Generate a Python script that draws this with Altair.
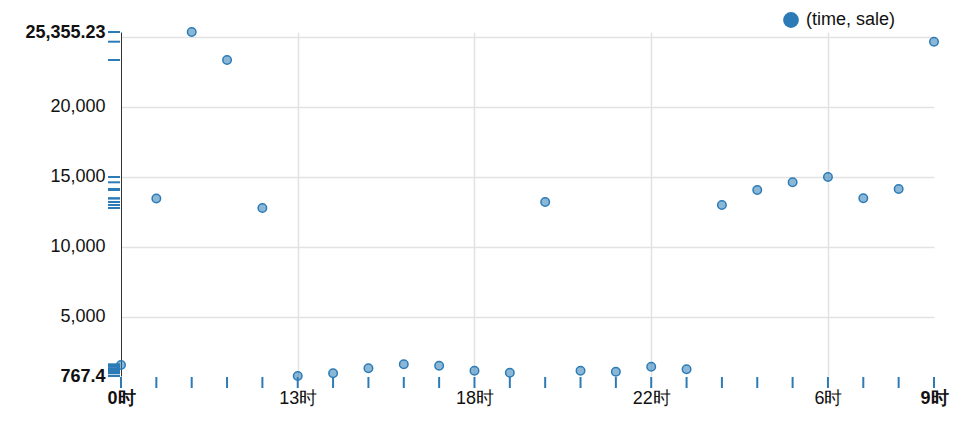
import altair as alt
import pandas as pd

# categories (string-sorted hours, as in the original)
times = ["0时", "1时", "10时", "11时", "12时", "13时", "14时", "15时", "16时", "17时",
         "18时", "19时", "2时", "20时", "21时", "22时", "23时", "3时", "4时", "5时",
         "6时", "7时", "8时", "9时"]
sales = [1552, 13460, 25355.23, 23354, 12775, 767.4, 959, 1317, 1603, 1503,
         1145, 1002, 13203, 1145, 1073, 1431, 1245, 12989, 14061, 14612,
         14990, 13467, 14133, 24662]
x_label_values = ["0时", "13时", "18时", "22时", "6时", "9时"]
y_label_values = [767.4, 5000, 10000, 15000, 20000, 25000, 25355.23]
series_name = "(time, sale)"

df = pd.DataFrame({"time": times, "sale": sales, "series": [series_name] * len(times)})

BLUE = "#2c7bb6"
FONT = "Liberation Sans"

X = alt.X(
    "time:N",
    scale=alt.Scale(type="point", domain=times, padding=0),
    axis=alt.Axis(
        values=x_label_values,
        title=None,
        labelAngle=0,
        labelFontSize=18,
        labelFont=FONT,
        labelColor="#111",
        labelPadding=13,
        labelFontWeight={"condition": {"test": "datum.value == '0时' || datum.value == '9时'", "value": "bold"}, "value": "normal"},
        ticks=False,
        domain=False,
        grid=True,
        gridColor="#e2e2e2",
        gridWidth=1.5,
        gridOpacity={"condition": {"test": "datum.value == '0时' || datum.value == '9时'", "value": 0}, "value": 1},
    ),
)

Y = alt.Y(
    "sale:Q",
    scale=alt.Scale(domain=[767.4, 25355.23], nice=False, zero=False),
    axis=alt.Axis(
        values=y_label_values,
        title=None,
        labelFontSize=18,
        labelFont=FONT,
        labelColor="#111",
        labelPadding=16,
        labelOverlap=False,
        labelExpr="datum.value == 25000 ? '' : format(datum.value, ',')",
        labelFontWeight={"condition": {"test": "datum.value == 767.4 || datum.value == 25355.23", "value": "bold"}, "value": "normal"},
        ticks=False,
        domain=True,
        domainColor="#333",
        domainWidth=1,
        grid=True,
        gridColor="#e2e2e2",
        gridWidth=1.5,
        gridOpacity={"condition": {"test": "datum.value == 767.4 || datum.value == 25355.23", "value": 0}, "value": 1},
    ),
)

base = alt.Chart(df)

points = base.mark_point(
    filled=True, size=72, fillOpacity=0.55, stroke=BLUE, strokeWidth=1.5, strokeOpacity=1
).encode(
    x=X,
    y=Y,
    color=alt.Color(
        "series:N",
        scale=alt.Scale(range=[BLUE]),
        legend=alt.Legend(
            title=None,
            orient="none",
            legendX=661,
            legendY=-21,
            labelFontSize=18,
            labelFont=FONT,
            labelColor="#111",
            symbolType="circle",
            symbolSize=250,
            symbolStrokeWidth=0,
            symbolOpacity=1,
            labelOffset=6,
        ),
    ),
)

y_rug = base.mark_rule(color=BLUE, strokeWidth=2).encode(
    y=Y, x=alt.value(-13), x2=alt.value(-1)
)

x_rug = base.mark_rule(color=BLUE, strokeWidth=2).encode(
    x=X, y=alt.value(345), y2=alt.value(356)
)

chart = alt.layer(x_rug, y_rug, points).properties(
    width=813,
    height=344,
    padding={"left": 113, "top": 24, "right": 20, "bottom": 40},
    autosize=alt.AutoSizeParams(type="none"),
).configure_view(strokeWidth=0)

chart.save("out.html", embed_options={"renderer": "svg", "actions": False})
